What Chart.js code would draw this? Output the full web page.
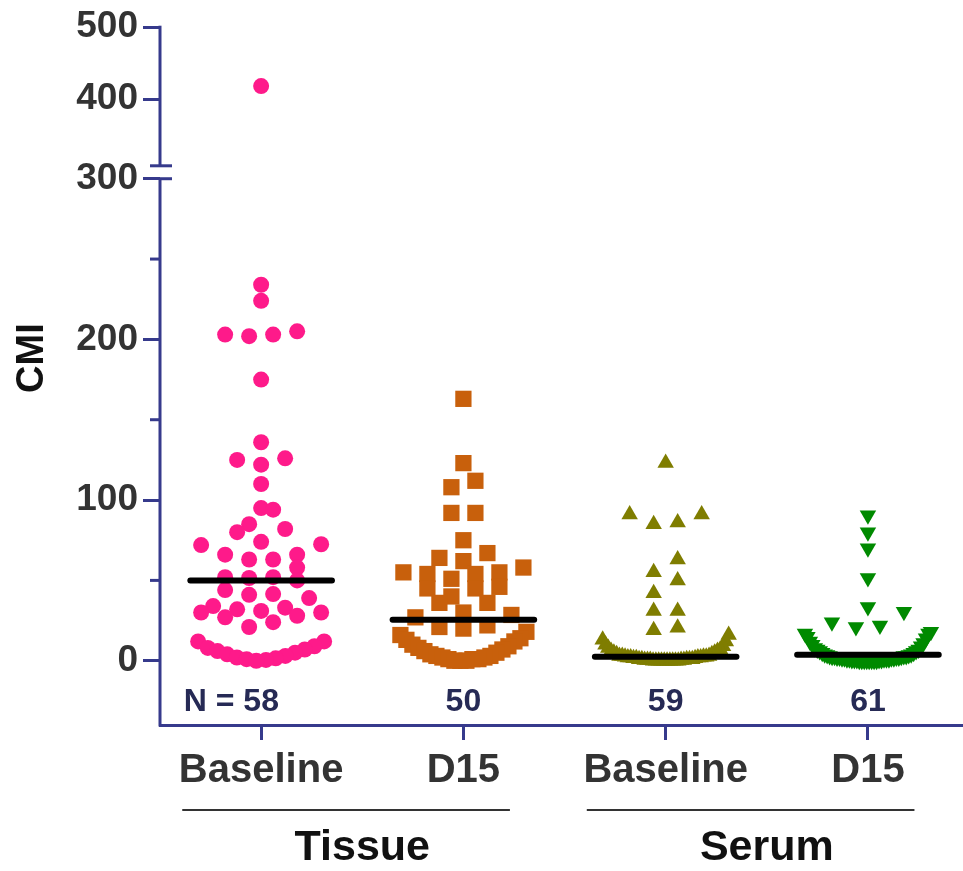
<!DOCTYPE html>
<html><head><meta charset="utf-8">
<script src="https://cdn.jsdelivr.net/npm/chart.js@4.4.1/dist/chart.umd.min.js"></script>
<style>html,body{margin:0;padding:0;background:#fff}#wrap{width:963px;height:871px}</style>
</head><body><div id="wrap"><canvas id="c" width="963" height="871"></canvas></div>
<script>
// ---------- data ----------
const categories = ['Baseline', 'D15', 'Baseline', 'D15'];
const groupLabels = ['Tissue', 'Serum'];
const groupMembers = [[0, 1], [2, 3]];
const counts = [58, 50, 59, 61];
const tissueBaseline = [418, 234, 224, 205, 203, 202, 203, 175, 136, 126, 122, 125, 110, 95, 94, 85, 82, 80, 74, 72.5, 72, 66, 66, 63, 63, 58, 52, 52, 51.5, 50, 44, 41.5, 41, 39, 34, 33, 32, 31, 30, 30, 28, 27, 24, 21, 12, 12, 9, 8, 7, 6, 5, 4, 3, 2, 1.5, 1, 0.5, 0];
const tissueD15 = [163, 123, 112, 108, 92, 92, 75, 67, 64, 62, 58, 55, 55, 54, 54, 51, 46, 45, 45, 40, 36, 36, 30, 28.5, 27, 22, 21, 20, 18, 16, 14, 13, 12, 10, 9, 8, 7, 6, 5, 4, 3, 3, 2, 2, 1, 1, 1, 0, 0, 0];
const serumBaseline = [123, 91, 91, 86, 85, 63, 55, 50, 42, 31, 31, 20.5, 19, 16, 13, 12, 10, 9, 8, 7, 6, 6, 5, 5, 4, 4, 3, 3, 3, 2.5, 2.5, 2.5, 2, 2, 2, 2, 1.5, 1.5, 1.5, 1, 1, 1, 1, 1, 0.5, 0.5, 0.5, 0.5, 0.5, 0, 0, 0, 0, 0, 0, 0, 0, 0, 0];
const serumD15 = [90.5, 80, 70, 51.5, 33.5, 30.5, 22, 18, 17, 24, 21, 17, 15, 14, 12, 11, 10, 9, 8, 7, 7, 6, 6, 5, 5, 4, 4, 3.5, 3.5, 3, 3, 3, 2.5, 2.5, 2.5, 2, 2, 2, 2, 1.5, 1.5, 1.5, 1.5, 1, 1, 1, 1, 1, 0.5, 0.5, 0.5, 0.5, 0.5, 0, 0, 0, 0, 0, 0, 0, 0];
const medians = [50, 25.5, 2.5, 3.7];
const lowerTicks = [0, 50, 100, 150, 200, 250, 300];
const upperTicks = [400, 500];
const breakLow = 300;
const breakHigh = 307;
const yTitle = 'CMI';

// ---------- styles ----------
const navy = '#363a8c';
const FONT = '"Liberation Sans", Arial, Helvetica, sans-serif';
const series = [tissueBaseline, tissueD15, serumBaseline, serumD15];
const looks = [
  { color: '#fe1a8a', style: 'circle', r: 8, rot: 0 },
  { color: '#c8600c', style: 'rect', r: 11.5, rot: 0 },
  { color: '#7f7d00', style: 'triangle', r: 9.5, rot: 0 },
  { color: '#008a00', style: 'triangle', r: 9.5, rot: 180 }
];

const datasets = [];
medians.forEach((m, i) => datasets.push({
  type: 'line', data: [{ x: i - 0.35, y: m }, { x: i + 0.35, y: m }],
  borderColor: '#000', borderWidth: 6, borderCapStyle: 'round', pointRadius: 0,
  yAxisID: 'yLow', order: 0, clip: false
}));
series.forEach((vals, g) => {
  ['yLow', 'yHigh'].forEach(ax => {
    const sel = vals.filter(v => ax === 'yLow' ? v <= breakLow : v > breakLow);
    if (!sel.length) return;
    const L = looks[g];
    datasets.push({
      type: 'scatter', swarmGroup: g, yAxisID: ax,
      data: sel.map(v => ({ x: g, y: v })),
      pointStyle: L.style, pointRadius: L.r, pointRotation: L.rot,
      backgroundColor: L.color, borderColor: L.color, borderWidth: 0,
      order: 1, clip: false
    });
  });
});

function line(ctx, x1, y1, x2, y2) { ctx.beginPath(); ctx.moveTo(x1, y1); ctx.lineTo(x2, y2); ctx.stroke(); }

const deco = {
  id: 'deco',
  afterDraw(chart) {
    const ctx = chart.ctx, ca = chart.chartArea, xs = chart.scales.x, lo = chart.scales.yLow, hi = chart.scales.yHigh;
    const ax = ca.left;
    ctx.save();
    ctx.strokeStyle = navy; ctx.lineWidth = 3; ctx.lineCap = 'butt';
    line(ctx, ax, lo.getPixelForValue(breakLow), ax, ca.bottom + 1.5);
    line(ctx, ax, hi.getPixelForValue(500) - 1.5, ax, hi.getPixelForValue(breakHigh));
    line(ctx, ax - 10, hi.getPixelForValue(breakHigh), ax + 12, hi.getPixelForValue(breakHigh));
    line(ctx, ax, lo.getPixelForValue(breakLow), ax + 12, lo.getPixelForValue(breakLow));
    lowerTicks.filter(v => v % 100 !== 0).forEach(v => line(ctx, ax - 10, lo.getPixelForValue(v), ax, lo.getPixelForValue(v)));

    // N labels
    ctx.fillStyle = '#262a55';
    ctx.font = 'bold 32px ' + FONT;
    ctx.textBaseline = 'middle';
    const ny = lo.getPixelForValue(-26);
    counts.forEach((n, i) => {
      const px = xs.getPixelForValue(i);
      ctx.textAlign = 'center';
      const t = String(n);
      ctx.fillText(t, px, ny);
      if (i === 0) {
        ctx.textAlign = 'right';
        ctx.fillText('N = ', px - ctx.measureText(t).width / 2, ny);
      }
    });

    // group underlines and labels
    ctx.strokeStyle = '#333'; ctx.lineWidth = 2;
    ctx.fillStyle = '#111';
    ctx.font = 'bold 43px ' + FONT;
    ctx.textAlign = 'center';
    groupMembers.forEach((m, k) => {
      const a = xs.getPixelForValue(m[0] - 0.39), b = xs.getPixelForValue(m[m.length - 1] + 0.23);
      line(ctx, a, ca.bottom + 85, b, ca.bottom + 85);
      const cx = (xs.getPixelForValue(m[0]) + xs.getPixelForValue(m[m.length - 1])) / 2;
      ctx.fillText(groupLabels[k], cx, ca.bottom + 123);
    });

    // y title
    ctx.save();
    ctx.translate(33, (ca.top + ca.bottom) / 2 - 18);
    ctx.rotate(-Math.PI / 2);
    ctx.font = 'bold 38px ' + FONT;
    ctx.fillStyle = '#111';
    ctx.textAlign = 'center'; ctx.textBaseline = 'middle';
    ctx.fillText(yTitle, 0, 0);
    ctx.restore();
    ctx.restore();
  }
};

const tickFont = { family: FONT, size: 37, weight: 'bold' };
const noSidePad = s => { s.paddingLeft = 0; s.paddingRight = 0; };
const chart = new Chart(document.getElementById('c'), {
  data: { datasets },
  plugins: [deco],
  options: {
    responsive: false, animation: false, events: [], devicePixelRatio: 1,
    layout: { autoPadding: false, padding: { top: 25, right: 0, bottom: 0, left: 0 } },
    plugins: { legend: { display: false }, tooltip: { enabled: false } },
    scales: {
      x: {
        type: 'linear', position: 'bottom', min: -0.5, max: 3.47,
        afterBuildTicks: s => { s.ticks = categories.map((c, i) => ({ value: i })); },
        afterFit: s => { s.height = 146; noSidePad(s); },
        ticks: { callback: v => categories[v], font: { family: FONT, size: 40, weight: 'bold' }, color: '#333', padding: 7, maxRotation: 0, autoSkip: false },
        grid: { drawOnChartArea: false, drawTicks: true, tickLength: 15, tickWidth: 3, tickColor: navy },
        border: { display: true, color: navy, width: 3 }
      },
      yLow: {
        type: 'linear', position: 'left', stack: 'y', stackWeight: 548, min: -40, max: 300,
        afterBuildTicks: s => { s.ticks = lowerTicks.map(v => ({ value: v })); },
        afterFit: s => { s.width = 160; noSidePad(s); },
        ticks: { callback: v => (v % 100 === 0 ? String(v) : ''), font: tickFont, color: '#333', padding: 5, autoSkip: false },
        grid: { drawOnChartArea: false, drawTicks: true, tickLength: 17, tickWidth: 3, tickColor: c => (c.tick && c.tick.value % 100 === 0) ? navy : 'rgba(0,0,0,0)' },
        border: { display: false }
      },
      yHigh: {
        type: 'linear', position: 'left', stack: 'y', stackWeight: 152, min: 289, max: 500,
        afterBuildTicks: s => { s.ticks = upperTicks.map(v => ({ value: v })); },
        afterFit: s => { s.width = 160; noSidePad(s); },
        ticks: { callback: v => String(v), font: tickFont, color: '#333', padding: 5, autoSkip: false },
        grid: { drawOnChartArea: false, drawTicks: true, tickLength: 17, tickWidth: 3, tickColor: navy },
        border: { display: false }
      }
    }
  }
});

// Prism-like row layout: points of similar height share a row spread around the column centre;
// a row that is already full keeps absorbing slightly higher points at its outer ends (the "smile").
function swarm(pys, W, sMax, h, hFull) {
  const idx = pys.map((y, i) => i).sort((a, b) => pys[b] - pys[a]);
  const offs = new Array(pys.length).fill(0);
  let i = 0;
  while (i < idx.length) {
    const start = pys[idx[i]];
    const row = [];
    while (i < idx.length && start - pys[idx[i]] < h) { row.push(idx[i]); i++; }
    if ((row.length - 1) * sMax > 2 * W) {
      while (i < idx.length && start - pys[idx[i]] < hFull) { row.push(idx[i]); i++; }
    }
    const n = row.length;
    const s = n > 1 ? Math.min(sMax, 2 * W / (n - 1)) : 0;
    const slots = [];
    for (let k = 0; k < n; k++) slots.push((k - (n - 1) / 2) * s);
    slots.sort((a, b) => Math.abs(a) - Math.abs(b) || a - b);
    row.forEach((pi, j) => { offs[pi] = slots[j]; });
  }
  return offs;
}

function applySwarm() {
  const xs = chart.scales.x;
  const pxPerCat = xs.getPixelForValue(1) - xs.getPixelForValue(0);
  series.forEach((vals, g) => {
    const pts = [];
    chart.data.datasets.filter(d => d.swarmGroup === g).forEach(d => {
      const sc = chart.scales[d.yAxisID];
      d.data.forEach(p => pts.push({ p, py: sc.getPixelForValue(p.y) }));
    });
    const offs = swarm(pts.map(q => q.py), 63, 24, 16, 30);
    pts.forEach((q, k) => { q.p.x = g + offs[k] / pxPerCat; });
  });
  chart.update('none');
}
applySwarm();
</script>
</body></html>
